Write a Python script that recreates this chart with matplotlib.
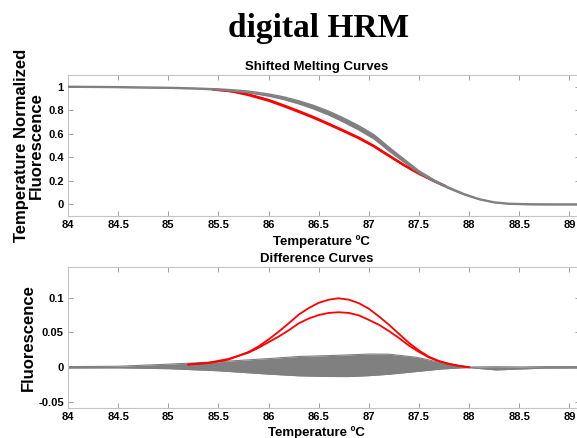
import matplotlib
matplotlib.use("Agg")
import matplotlib.pyplot as plt
import numpy as np

# ---------------- data ----------------
# Shifted melting curves (top panel)
temp_top = [84.0, 84.5, 85.0, 85.25, 85.5, 85.65, 85.8, 86.0, 86.15, 86.3, 86.45, 86.6,
            86.75, 86.9, 87.05, 87.2, 87.35, 87.5, 87.65, 87.8, 87.95, 88.1, 88.25,
            88.4, 88.6, 88.8, 89.1]
gray_mid = [1.000, 0.997, 0.991, 0.986, 0.977, 0.968, 0.956, 0.930, 0.903, 0.868, 0.826,
            0.776, 0.716, 0.650, 0.575, 0.470, 0.372, 0.275, 0.200, 0.138, 0.085, 0.043,
            0.016, 0.004, 0.000, -0.001, -0.001]
gray_half = [0.004, 0.004, 0.004, 0.004, 0.005, 0.006, 0.007, 0.009, 0.011, 0.013, 0.015,
             0.016, 0.017, 0.018, 0.018, 0.016, 0.013, 0.010, 0.008, 0.006, 0.005, 0.004,
             0.004, 0.004, 0.004, 0.004, 0.004]

temp_red_top = [85.45, 85.55, 85.65, 85.8, 86.0, 86.15, 86.3, 86.45, 86.6, 86.75, 86.9,
                87.05, 87.2, 87.35, 87.5, 87.65, 87.75]
red_top_a = [0.976, 0.970, 0.961, 0.935, 0.888, 0.842, 0.793, 0.742, 0.685, 0.627, 0.567,
             0.497, 0.415, 0.335, 0.262, 0.198, 0.160]
red_top_b = [0.975, 0.968, 0.957, 0.929, 0.881, 0.835, 0.786, 0.735, 0.679, 0.621, 0.561,
             0.492, 0.411, 0.331, 0.259, 0.196, 0.158]

# Difference curves (bottom panel)
temp_diff = [84.0, 84.5, 85.0, 85.5, 86.0, 86.3, 86.6, 86.8, 87.0, 87.2, 87.48, 87.72,
             87.92, 88.0, 88.27, 88.5, 88.75, 89.1]
diff_gray_upper = [0.001, 0.0015, 0.0045, 0.008, 0.0125, 0.0155, 0.0168, 0.0178, 0.019,
                   0.0188, 0.0143, 0.0066, 0.002, 0.0005, 0.0008, 0.0005, 0.001, 0.001]
diff_gray_lower = [-0.001, -0.0008, -0.002, -0.005, -0.0098, -0.0122, -0.0132, -0.0133,
                   -0.012, -0.010, -0.006, -0.0025, -0.0008, -0.0005, -0.0038, -0.0025,
                   -0.0012, -0.001]

temp_red_diff = [85.2, 85.4, 85.6, 85.8, 85.9, 86.0, 86.1, 86.2, 86.3, 86.4, 86.5, 86.6,
                 86.7, 86.8, 86.9, 87.0, 87.1, 87.2, 87.3, 87.4, 87.5, 87.6, 87.7, 87.8,
                 87.9, 88.0]
red_diff_a = [0.004, 0.006, 0.011, 0.022, 0.030, 0.040, 0.051, 0.063, 0.0755, 0.085, 0.0925,
              0.097, 0.099, 0.097, 0.092, 0.084, 0.073, 0.061, 0.048, 0.035, 0.024, 0.015,
              0.009, 0.005, 0.002, 0.0]
red_diff_b = [0.004, 0.0065, 0.012, 0.021, 0.028, 0.036, 0.044, 0.053, 0.063, 0.070, 0.075,
              0.078, 0.079, 0.078, 0.0745, 0.068, 0.061, 0.052, 0.042, 0.031, 0.022, 0.014,
              0.0085, 0.0045, 0.002, 0.0]

x_ticks = [84, 84.5, 85, 85.5, 86, 86.5, 87, 87.5, 88, 88.5, 89]
x_ticklabels = ["84", "84.5", "85", "85.5", "86", "86.5", "87", "87.5", "88", "88.5", "89"]
top_yticks = [0, 0.2, 0.4, 0.6, 0.8, 1]
top_yticklabels = ["0", "0.2", "0.4", "0.6", "0.8", "1"]
bot_yticks = [-0.05, 0, 0.05, 0.1]
bot_yticklabels = ["-0.05", "0", "0.05", "0.1"]

# ---------------- figure ----------------
W, H = 577, 438
fig = plt.figure(figsize=(W / 100, H / 100), dpi=100)
fig.patch.set_facecolor("white")

SANS = "Liberation Sans"
GRAY = "#808080"
RED = "#ff0000"
SPINE = "#c4c4c4"

left = 68 / W
width = (579.5 - 68) / W
ax1 = fig.add_axes([left, (H - 216) / H, width, 141 / H])
ax2 = fig.add_axes([left, (H - 408) / H, width, 141 / H])

# top panel
gm = np.array(gray_mid)
gh = np.array(gray_half)
ax1.fill_between(temp_top, gm - gh, gm + gh, color=GRAY, lw=0, zorder=3)
ax1.plot(temp_top, gm + gh, color=GRAY, lw=1.0, zorder=3)
ax1.plot(temp_top, gm - gh, color=GRAY, lw=1.0, zorder=3)
ax1.plot(temp_red_top, red_top_a, color=RED, lw=1.6, zorder=2)
ax1.plot(temp_red_top, red_top_b, color=RED, lw=1.6, zorder=2)
ax1.set_ylim(-0.1, 1.1)
ax1.set_yticks(top_yticks)
ax1.set_yticklabels(top_yticklabels)

# bottom panel
ax2.fill_between(temp_diff, diff_gray_lower, diff_gray_upper, color=GRAY, lw=0, zorder=2)
ax2.plot(temp_diff, diff_gray_upper, color=GRAY, lw=0.8, zorder=2)
ax2.plot(temp_diff, diff_gray_lower, color=GRAY, lw=0.8, zorder=2)
ax2.plot(temp_red_diff, red_diff_a, color=RED, lw=1.3, zorder=3)
ax2.plot(temp_red_diff, red_diff_b, color=RED, lw=1.3, zorder=3)
ax2.set_ylim(-0.0584, 0.1439)
ax2.set_yticks(bot_yticks)
ax2.set_yticklabels(bot_yticklabels)

for ax in (ax1, ax2):
    ax.set_xlim(84, 89.1)
    ax.set_xticks(x_ticks)
    ax.set_xticklabels(x_ticklabels)
    for s in ax.spines.values():
        s.set_color(SPINE)
        s.set_linewidth(0.8)
    ax.tick_params(direction="in", length=3.5, width=0.7, color="#a0a0a0",
                   top=True, right=True, pad=3, labelsize=8)
    for lab in ax.get_xticklabels() + ax.get_yticklabels():
        lab.set_fontfamily(SANS)
        lab.set_fontweight("bold")

# axis labels
ax1.set_ylabel("Temperature Normalized\nFluorescence", fontfamily=SANS, fontweight="bold",
               fontsize=12, ha="center", va="center", linespacing=1.05)
ax1.yaxis.set_label_coords((29 - 68) / 511.5, 0.5)
ax2.set_ylabel("Fluorescence", fontfamily=SANS, fontweight="bold", fontsize=12,
               ha="center", va="center")
ax2.yaxis.set_label_coords((28 - 68) / 511.5, 0.5)

# titles and x labels
fig.text(319 / W, 1 - 28 / H, "digital HRM", family="Liberation Serif", fontweight="bold",
         fontsize=24, ha="center", va="center")
fig.text(317 / W, 1 - 67 / H, "Shifted Melting Curves", family=SANS, fontweight="bold",
         fontsize=9.5, ha="center", va="center")
fig.text(317 / W, 1 - 258.5 / H, "Difference Curves", family=SANS, fontweight="bold",
         fontsize=9.5, ha="center", va="center")
fig.text(321 / W, 1 - 242 / H, "Temperature ºC", family=SANS, fontweight="bold",
         fontsize=9.5, ha="center", va="center")
fig.text(316 / W, 1 - 432.5 / H, "Temperature ºC", family=SANS, fontweight="bold",
         fontsize=9.5, ha="center", va="center")

fig.savefig("out.png", dpi=100, facecolor="white")
